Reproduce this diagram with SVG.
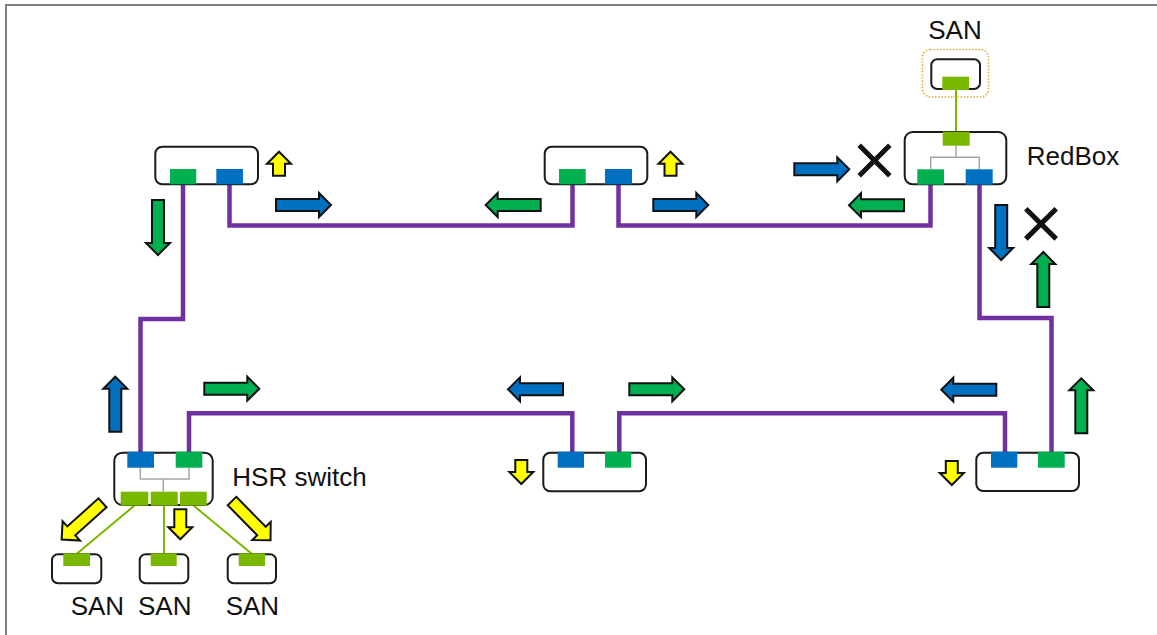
<svg xmlns="http://www.w3.org/2000/svg" xmlns:xlink="http://www.w3.org/1999/xlink" width="1157" height="635" viewBox="0 0 1157 635">
<style>
.box{fill:#fff;stroke:#1a1a1a;stroke-width:2}
.pg{fill:#00B050}
.pb{fill:#0070C0}
.pl{fill:#7AB800}
.ring{fill:none;stroke:#7030A0;stroke-width:4.5}
.link{fill:none;stroke:#7AB800;stroke-width:2}
.tree{fill:none;stroke:#A6A6A6;stroke-width:1.5}
.ag{fill:#00B050}
.ab{fill:#0070C0}
.ay{fill:#FFFF00}
.x{stroke:#111;stroke-width:5}
.lbl{font-family:"Liberation Sans",Arial,sans-serif;font-size:26px;fill:#111}
</style>
<defs>
<path id="aL" d="M0,-6 L43,-6 L43,-12 L55,0 L43,12 L43,6 L0,6 Z" stroke="#111" stroke-width="2" stroke-linejoin="miter"/>
<path id="aS" d="M0,-6 L12,-6 L12,-12 L24,0 L12,12 L12,6 L0,6 Z" stroke="#111" stroke-width="2"/>
<path id="aM" d="M0,-6 L18,-6 L18,-12 L30,0 L18,12 L18,6 L0,6 Z" stroke="#111" stroke-width="2"/>
<path id="aD" d="M0,-6 L42,-6 L42,-13 L55,0 L42,13 L42,6 L0,6 Z" stroke="#111" stroke-width="2"/>
</defs>

<path d="M6,635 V5 H1157" fill="none" stroke="#808080" stroke-width="2"/>

<g id="connectors">
<path class="ring" d="M183,185 V319 H140.5 V452"/>
<path class="ring" d="M229.5,185 V225.5 H572.5 V185"/>
<path class="ring" d="M618.5,185 V225.5 H930.5 V185"/>
<path class="ring" d="M979.5,185 V318 H1051.5 V452"/>
<path class="ring" d="M1005,452 V413.3 H619.3 V452"/>
<path class="ring" d="M572.3,452 V413.3 H189 V452"/>
<line class="link" x1="956" y1="90" x2="956" y2="132"/>
<line class="link" x1="134.5" y1="505.5" x2="76.5" y2="554"/>
<line class="link" x1="164" y1="505.5" x2="164" y2="554"/>
<line class="link" x1="193.5" y1="505.5" x2="252" y2="554"/>
</g>

<g id="node-top-left">
<rect class="box" x="155.3" y="146.7" width="102.7" height="37.6" rx="7"/>
<rect class="pg" x="170" y="169" width="26.3" height="15.3"/>
<rect class="pb" x="216.3" y="169" width="26.7" height="15.3"/>
</g>

<g id="node-top-middle">
<rect class="box" x="544.7" y="146.7" width="102.6" height="37.6" rx="7"/>
<rect class="pg" x="559" y="169" width="26.7" height="15.3"/>
<rect class="pb" x="605" y="169" width="27" height="15.3"/>
</g>

<g id="san-top">
<rect x="922.5" y="49.5" width="66" height="47.5" rx="8" fill="none" stroke="#E0AE45" stroke-width="1.6" stroke-dasharray="1.6 1.6"/>
<rect class="box" x="931.3" y="59.3" width="48.7" height="29.7" rx="6"/>
<rect class="pl" x="942.3" y="76.7" width="26.7" height="13.3"/>
<text class="lbl" x="955" y="39" text-anchor="middle">SAN</text>
</g>

<g id="redbox">
<rect class="box" x="904.7" y="132" width="101.6" height="52.3" rx="8"/>
<path class="tree" d="M956,145.7 V157.3 M930.7,169.3 V157.3 H979.3 V169.3"/>
<rect class="pl" x="942.7" y="131.7" width="27" height="14"/>
<rect class="pg" x="917.3" y="169.3" width="26.7" height="15.4"/>
<rect class="pb" x="965.7" y="169.3" width="27" height="15.4"/>
<text class="lbl" x="1026.7" y="165">RedBox</text>
</g>

<g id="hsr-switch">
<rect class="box" x="114.3" y="452.7" width="98.4" height="52.3" rx="8"/>
<path class="tree" d="M140.3,467.7 V479 H189 V467.7 M163.3,479 V491.7"/>
<rect class="pb" x="127.3" y="451.7" width="26.7" height="16"/>
<rect class="pg" x="175.7" y="451.7" width="26.6" height="16"/>
<rect class="pl" x="120.7" y="491.7" width="27.6" height="14"/>
<rect class="pl" x="150.7" y="491.7" width="27" height="14"/>
<rect class="pl" x="180" y="491.7" width="26.7" height="14"/>
<text class="lbl" x="232.3" y="486">HSR switch</text>
</g>

<g id="node-bottom-middle">
<rect class="box" x="543.3" y="452.7" width="102.7" height="38.6" rx="7"/>
<rect class="pb" x="557.7" y="451.7" width="26.3" height="16"/>
<rect class="pg" x="605" y="451.7" width="26.3" height="16"/>
</g>

<g id="node-bottom-right">
<rect class="box" x="976.3" y="452.7" width="102.7" height="38.3" rx="7"/>
<rect class="pb" x="991" y="451.7" width="26.3" height="16"/>
<rect class="pg" x="1038" y="451.7" width="26.7" height="16"/>
</g>

<g id="san-1">
<rect class="box" x="52" y="554.3" width="49.3" height="29" rx="6"/>
<rect class="pl" x="63.3" y="553.3" width="26.7" height="12.7"/>
<text class="lbl" x="70.7" y="615">SAN</text>
</g>
<g id="san-2">
<rect class="box" x="139.7" y="554.3" width="48.6" height="29" rx="6"/>
<rect class="pl" x="150.7" y="553.3" width="26" height="12.7"/>
<text class="lbl" x="138" y="615">SAN</text>
</g>
<g id="san-3">
<rect class="box" x="227.7" y="554.3" width="48.3" height="29" rx="6"/>
<rect class="pl" x="238.7" y="553.3" width="26.3" height="12.7"/>
<text class="lbl" x="225.7" y="615">SAN</text>
</g>

<g id="traffic-arrows">
<use xlink:href="#aL" class="ab" transform="translate(276,205)"/>
<use xlink:href="#aL" class="ag" transform="translate(158,200) rotate(90)"/>
<use xlink:href="#aL" class="ag" transform="translate(540.7,205) rotate(180)"/>
<use xlink:href="#aL" class="ab" transform="translate(653.3,205)"/>
<use xlink:href="#aL" class="ab" transform="translate(794.3,169.3)"/>
<use xlink:href="#aL" class="ag" transform="translate(904,205.2) rotate(180)"/>
<use xlink:href="#aL" class="ab" transform="translate(1001.2,205) rotate(90)"/>
<use xlink:href="#aL" class="ag" transform="translate(1043.3,307) rotate(-90)"/>
<use xlink:href="#aL" class="ag" transform="translate(1081.3,433.3) rotate(-90)"/>
<use xlink:href="#aL" class="ab" transform="translate(996.3,389.7) rotate(180)"/>
<use xlink:href="#aL" class="ag" transform="translate(629.3,389.3)"/>
<use xlink:href="#aL" class="ab" transform="translate(563,389.3) rotate(180)"/>
<use xlink:href="#aL" class="ag" transform="translate(204.3,388.7)"/>
<use xlink:href="#aL" class="ab" transform="translate(115.3,431.7) rotate(-90)"/>
<use xlink:href="#aS" class="ay" transform="translate(279,175.7) rotate(-90)"/>
<use xlink:href="#aS" class="ay" transform="translate(670.5,175.7) rotate(-90)"/>
<use xlink:href="#aS" class="ay" transform="translate(521.3,460) rotate(90)"/>
<use xlink:href="#aS" class="ay" transform="translate(951.8,461) rotate(90)"/>
<use xlink:href="#aM" class="ay" transform="translate(180.3,509.3) rotate(90)"/>
<use xlink:href="#aD" class="ay" transform="translate(102.5,502.8) rotate(138)"/>
<use xlink:href="#aD" class="ay" transform="translate(232,501) rotate(45.5)"/>
</g>

<g id="blocked-marks">
<path class="x" d="M859.2,145.2 L889.8,175.8 M889.8,145.2 L859.2,175.8"/>
<path class="x" d="M1025.8,208.8 L1056.2,238.9 M1056.2,208.8 L1025.8,238.9"/>
</g>
</svg>
